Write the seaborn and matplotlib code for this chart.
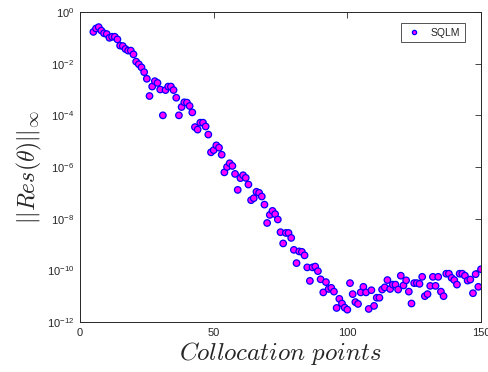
import numpy as np
import pandas as pd
import matplotlib
matplotlib.use("Agg")
import matplotlib.pyplot as plt
import seaborn as sns

# collocation points 5..150
collocation_points = list(range(5, 151))

residual_5_47 = [1.7e-1, 2.3e-1, 2.6e-1, 1.9e-1, 1.5e-1, 1.4e-1, 1.0e-1, 1.1e-1, 1.1e-1, 8.7e-2,
                 5.0e-2, 4.8e-2, 3.7e-2, 3.2e-2, 3.2e-2, 2.3e-2, 1.2e-2, 9.5e-3, 7.2e-3, 4.7e-3,
                 2.6e-3, 5.6e-4, 1.3e-3, 2.1e-3, 1.8e-3, 1.0e-3, 1.0e-4, 9.5e-4, 1.3e-3, 1.3e-3,
                 9.5e-4, 4.8e-4, 1.0e-4, 2.1e-4, 3.2e-4, 3.1e-4, 2.3e-4, 1.3e-4, 3.5e-5, 2.8e-5,
                 5.2e-5, 5.2e-5, 3.7e-5]
residual_48_90 = [1.8e-5, 3.7e-6, 4.5e-6, 6.9e-6, 5.6e-6, 3.0e-6, 6.2e-7, 1.0e-6, 1.4e-6, 1.1e-6,
                  5.4e-7, 1.3e-7, 3.7e-7, 4.8e-7, 3.8e-7, 2.1e-7, 5.2e-8, 6.2e-8, 1.1e-7, 1.0e-7,
                  7.2e-8, 3.5e-8, 6.8e-9, 1.4e-8, 2.0e-8, 1.5e-8, 9.3e-9, 3.0e-9, 1.1e-9, 2.8e-9,
                  2.8e-9, 1.8e-9, 6.2e-10, 1.9e-10, 5.4e-10, 5.2e-10, 3.8e-10, 1.3e-10, 3.9e-11, 1.3e-10,
                  1.4e-10, 9.3e-11, 4.5e-11]
residual_91_150 = [1.4e-11, 3.5e-11, 1.9e-11, 2.1e-11, 1.5e-11, 3.5e-12, 7.9e-12, 5.2e-12, 3.6e-12, 3.0e-12,
                   3.2e-11, 1.2e-11, 5.9e-12, 5.0e-12, 1.4e-11, 2.3e-11, 1.4e-11, 3.2e-12, 1.7e-11, 4.2e-12,
                   8.7e-12, 8.7e-12, 1.8e-11, 2.2e-11, 4.2e-11, 1.9e-11, 2.8e-11, 2.8e-11, 1.8e-11, 6.2e-11,
                   2.6e-11, 4.1e-11, 1.5e-11, 5.2e-12, 3.2e-11, 3.2e-11, 3.0e-11, 5.6e-11, 1.0e-11, 1.2e-11,
                   2.5e-11, 5.6e-11, 2.5e-11, 5.6e-11, 1.5e-11, 1.0e-11, 7.4e-11, 7.4e-11, 5.1e-11, 4.2e-11,
                   2.8e-11, 7.4e-11, 7.4e-11, 6.2e-11, 4.0e-11, 4.4e-11, 1.3e-11, 7.1e-11, 2.3e-11, 1.1e-10]

series_name = "SQLM"
x_ticks = [0, 50, 100, 150]
y_tick_exponents = [0, -2, -4, -6, -8, -10, -12]

residuals = residual_5_47 + residual_48_90 + residual_91_150
df = pd.DataFrame({"x": collocation_points, "res": residuals, "method": series_name})

sns.set_style("white")
plt.rcParams["font.family"] = ["Liberation Sans", "DejaVu Sans"]
plt.rcParams["mathtext.fontset"] = "cm"

fig = plt.figure(figsize=(4.89, 3.72), dpi=100)
ax = fig.add_axes([80 / 489, 1 - 322 / 372, 401 / 489, 310 / 372])

sns.scatterplot(data=df, x="x", y="res", hue="method", palette={series_name: "#FF00FF"},
                edgecolor="#0000FF", linewidth=0.9, s=22, ax=ax, zorder=3)

ax.set_yscale("log")
ax.set_xlim(0, 150)
ax.set_ylim(1e-12, 1e0)
ax.set_xticks(x_ticks)
ax.set_xticklabels([str(t) for t in x_ticks])
ax.set_yticks([10.0 ** e for e in y_tick_exponents])
ax.set_yticklabels([r"$\mathregular{10^{%d}}$" % e for e in y_tick_exponents])
ax.yaxis.set_minor_locator(matplotlib.ticker.NullLocator())
ax.tick_params(axis="both", which="major", direction="in", length=4, width=0.6,
               labelsize=8, colors="#262626", top=True, right=True, pad=4)
for sp in ax.spines.values():
    sp.set_visible(True)
    sp.set_linewidth(0.7)
    sp.set_color("#262626")

ax.set_xlabel(r"$Collocation\ points$", fontsize=18, labelpad=2)
ax.set_ylabel(r"$||Res(\theta)||_\infty$", fontsize=17, labelpad=2)

leg = ax.legend(loc="upper right", bbox_to_anchor=(0.968, 0.975), fontsize=7.5, frameon=True,
                fancybox=False, borderpad=0.45, handletextpad=0.8, markerscale=0.65,
                handlelength=1.6, borderaxespad=0.3)
leg.get_frame().set_edgecolor("#262626")
leg.get_frame().set_linewidth(0.7)

fig.savefig("out.png", dpi=100)
